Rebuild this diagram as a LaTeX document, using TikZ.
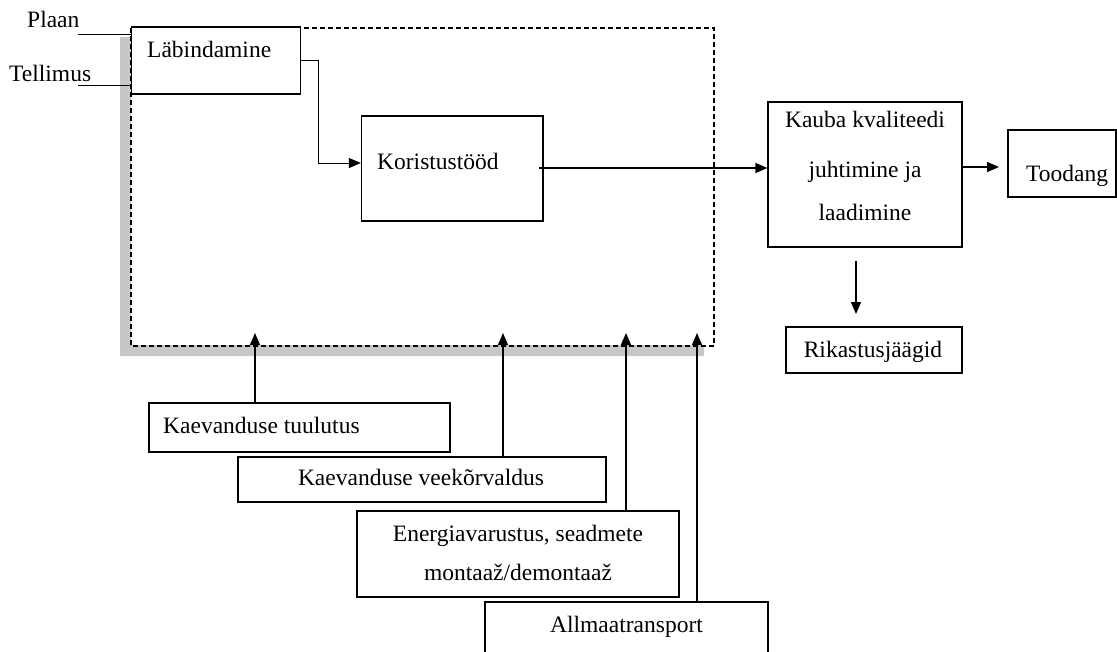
\documentclass[tikz,border=0pt]{standalone}
\usepackage{fontspec}
\setmainfont{Liberation Serif}
\usetikzlibrary{arrows.meta}
\begin{document}
\begin{tikzpicture}[x=1pt,y=-1pt,
  box/.style={draw, line width=1.3pt, inner sep=0pt},
  lbl/.style={font=\fontsize{23.5}{46}\selectfont, inner sep=0pt, anchor=base west},
  clbl/.style={font=\fontsize{23.5}{46}\selectfont, inner sep=0pt, anchor=base},
  arr/.style={line width=1.3pt, -{Triangle[length=12pt,width=10pt]}},
  thin/.style={line width=1pt},
  frame/.style={draw, line width=1.1pt, dash pattern=on 5pt off 3pt},
  shadowfill/.style={fill=black!22, draw=none}]
\useasboundingbox (0,0) rectangle (1117,651);

% shadow of the dashed frame
\fill[shadowfill] (120,37) -- (131,37) -- (131,345) -- (704,345) -- (704,356) -- (120,356) -- cycle;
% dashed frame
\draw[frame] (131,28) rectangle (714,346);

% boxes
\node[box, fill=white, minimum width=169pt, minimum height=67pt] (lab) at (216,60.5) {};
\node[box, minimum width=181.5pt, minimum height=105pt] (kor) at (452.25,168.5) {};
\node[box, minimum width=194pt, minimum height=145pt] (kau) at (865,174.5) {};
\node[box, minimum width=108pt, minimum height=67pt] (too) at (1062,163.5) {};
\node[box, minimum width=176pt, minimum height=46pt] (rik) at (874,350) {};
\node[box, minimum width=301pt, minimum height=49pt] (tuu) at (299.5,427.5) {};
\node[box, minimum width=368pt, minimum height=45pt] (vee) at (422,479.5) {};
\node[box, minimum width=322pt, minimum height=86pt] (ene) at (518,554) {};
\node[box, minimum width=283pt, minimum height=60pt] (all) at (626.5,632) {};

% texts
\node[lbl] (tlab) at (147,57) {Läbindamine};
\node[lbl] (tkor) at (377,169) {Koristustööd};
\node[clbl] (tkau1) at (865,127) {Kauba kvaliteedi};
\node[clbl] (tkau2) at (865,177) {juhtimine ja};
\node[clbl] (tkau3) at (865,220) {laadimine};
\node[lbl] (ttoo) at (1026,181) {Toodang};
\node[clbl] (trik) at (873,357) {Rikastusjäägid};
\node[lbl] (ttuu) at (163,433) {Kaevanduse tuulutus};
\node[clbl] (tvee) at (421,485) {Kaevanduse veekõrvaldus};
\node[clbl] (tene1) at (518,541) {Energiavarustus, seadmete};
\node[clbl] (tene2) at (518,580) {montaaž/demontaaž};
\node[clbl] (tall) at (626.5,632) {Allmaatransport};
\node[lbl] (tplaan) at (27,27) {Plaan};
\node[lbl] (ttell) at (9,81) {Tellimus};

% input lines
\coordinate (plaanend) at (78,34);
\coordinate (tellend) at (78,85);
\draw[thin] (plaanend) -- (lab.west |- plaanend);
\draw[thin] (tellend) -- (lab.west |- tellend);

% main flow
\coordinate (bend) at (318,163);
\draw[arr, line width=1pt] (lab.east) -| (bend) -- (kor.west |- bend);
\coordinate (korout) at (539,168);
\draw[arr] (korout) -- (kau.west |- korout);
\coordinate (kauout) at (962,167);
\coordinate (tooin) at (999,167);
\draw[arr] (kauout) -- (tooin);
\coordinate (downstart) at (856,261);
\coordinate (downend) at (856,314);
\draw[arr] (downstart) -- (downend);

% support arrows into the frame
\coordinate (tip1) at (255,333);
\coordinate (tip2) at (503,333);
\coordinate (tip3) at (626,333);
\coordinate (tip4) at (697,333);
\draw[arr] (tuu.north -| tip1) -- (tip1);
\draw[arr] (vee.north -| tip2) -- (tip2);
\draw[arr] (ene.north -| tip3) -- (tip3);
\draw[arr] (all.north -| tip4) -- (tip4);
\end{tikzpicture}
\end{document}
